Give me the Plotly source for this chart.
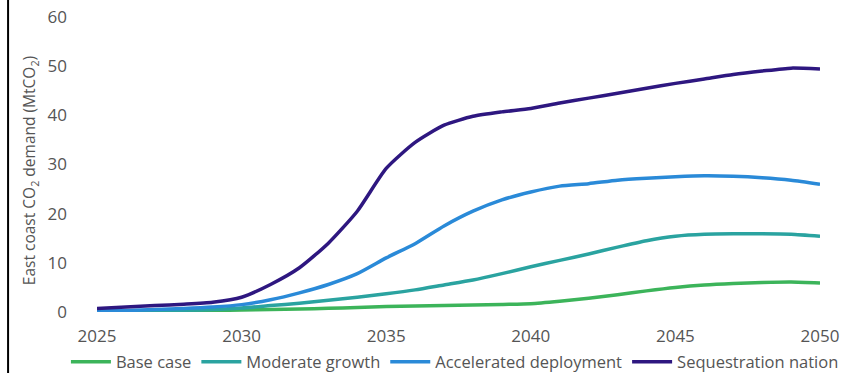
import plotly.graph_objects as go

years = list(range(2025, 2051))

base_case = [0.1, 0.15, 0.2, 0.25, 0.3, 0.4, 0.5, 0.6, 0.75, 0.9, 1.1, 1.2, 1.3, 1.4, 1.55, 1.7,
             2.2, 2.8, 3.5, 4.3, 5.0, 5.5, 5.8, 6.0, 6.1, 5.9]
moderate_growth = [0.1, 0.15, 0.25, 0.35, 0.5, 0.8, 1.3, 1.8, 2.4, 3.0, 3.7, 4.5, 5.5, 6.5, 7.8, 9.2,
                   10.5, 11.8, 13.2, 14.5, 15.4, 15.8, 15.9, 15.9, 15.8, 15.4]
accelerated = [0.2, 0.3, 0.5, 0.7, 1.0, 1.5, 2.5, 3.9, 5.6, 7.8, 11.0, 13.9, 17.5, 20.5, 22.8, 24.4,
               25.6, 26.1, 26.8, 27.2, 27.5, 27.7, 27.6, 27.3, 26.8, 26.0]
sequestration = [0.7, 1.0, 1.3, 1.6, 2.0, 3.0, 5.6, 9.0, 14.0, 20.5, 29.2, 34.5, 38.0, 39.8, 40.7, 41.4,
                 42.5, 43.5, 44.5, 45.5, 46.5, 47.4, 48.3, 49.0, 49.6, 49.4]

series = [
    ("Base case", base_case, "#3cb45a"),
    ("Moderate growth", moderate_growth, "#2aa3a0"),
    ("Accelerated deployment", accelerated, "#2a8ad8"),
    ("Sequestration nation", sequestration, "#2e1780"),
]

fig = go.Figure()
for name, vals, col in series:
    fig.add_trace(go.Scatter(x=years, y=vals, mode="lines", name=name,
                             line=dict(color=col, width=3.5, shape="spline", smoothing=0.6)))

fig.update_layout(
    width=856, height=373,
    margin=dict(l=97, r=36, t=17, b=61, autoexpand=False),
    paper_bgcolor="white", plot_bgcolor="white",
    font=dict(family="Open Sans, Arial, sans-serif", color="#555555", size=16),
    xaxis=dict(range=[2025, 2050], tickvals=[2025, 2030, 2035, 2040, 2045, 2050],
               showgrid=False, zeroline=False, showline=False, ticks="",
               ticklabelstandoff=12, automargin=False, ticklabeloverflow="allow",
               tickfont=dict(size=17, color="#555555")),
    yaxis=dict(range=[0, 60], tickvals=[0, 10, 20, 30, 40, 50, 60],
               showgrid=False, zeroline=False, showline=False, ticks="",
               ticklabelstandoff=29, automargin=False, ticklabeloverflow="allow",
               tickfont=dict(size=17, color="#555555")),
    annotations=[dict(text="East coast CO<sub>2</sub> demand (MtCO<sub>2</sub>)",
                      xref="paper", yref="paper", x=-0.093, y=0.48, textangle=-90,
                      showarrow=False, xanchor="center", yanchor="middle",
                      font=dict(size=15.5, color="#555555"))],
    legend=dict(orientation="h", x=-0.043, xanchor="left", y=-0.17, yanchor="middle",
                font=dict(size=16.5, color="#555555"), itemwidth=40, tracegroupgap=0,
                bgcolor="rgba(0,0,0,0)"),
    shapes=[dict(type="line", xref="paper", yref="paper", x0=-0.123, x1=-0.123,
                 y0=-0.25, y1=1.1, line=dict(color="black", width=2))],
)

fig.write_html("out.html", config={"displayModeBar": False},
               post_script="document.body.style.margin='0';document.body.style.overflow='hidden';")
